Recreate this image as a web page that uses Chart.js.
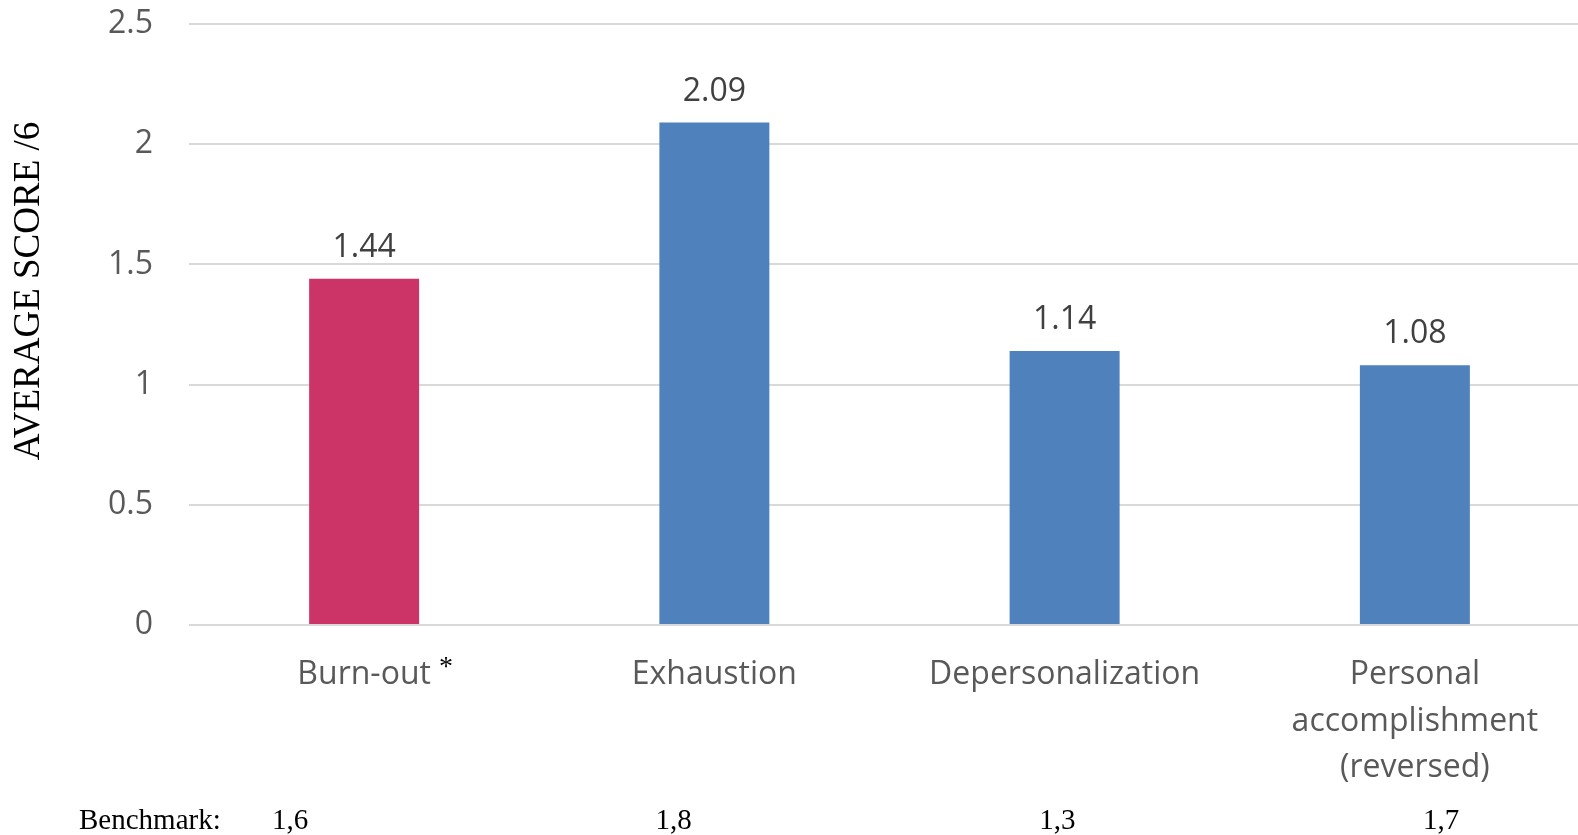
<!DOCTYPE html>
<html>
<head>
<meta charset="utf-8">
<script src="https://cdn.jsdelivr.net/npm/chart.js@4.4.1/dist/chart.umd.min.js"></script>
<style>
  html, body { margin: 0; padding: 0; background: #ffffff; overflow: hidden; }
  #wrap { position: relative; width: 1600px; height: 835px; }
</style>
</head>
<body>
<div id="wrap"><canvas id="c"></canvas></div>
<script>
// Burn-out scale scores (average, out of 6)
const categories = [['Burn-out'], ['Exhaustion'], ['Depersonalization'], ['Personal', 'accomplishment', '(reversed)']];
const scores = [1.44, 2.09, 1.14, 1.08];
const barColors = ['#CC3366', '#4F81BD', '#4F81BD', '#4F81BD'];
const yTicks = [0, 0.5, 1, 1.5, 2, 2.5];
const yTickLabels = ['0', '0.5', '1', '1.5', '2', '2.5'];
const axisTitle = 'AVERAGE SCORE /6';
const benchmarkLabel = 'Benchmark:';
const benchmarks = ['1,6', '1,8', '1,3', '1,7'];

const SANS = '"Open Sans", sans-serif';
const SERIF = '"Liberation Serif", "Times New Roman", serif';

// Value labels above each bar
const valueLabels = {
  id: 'valueLabels',
  afterDatasetsDraw(chart) {
    const ctx = chart.ctx;
    const meta = chart.getDatasetMeta(0);
    ctx.save();
    ctx.font = '32px ' + SANS;
    ctx.fillStyle = '#404040';
    ctx.textAlign = 'center';
    ctx.textBaseline = 'alphabetic';
    meta.data.forEach((bar, i) => {
      ctx.fillText(scores[i].toFixed(2), bar.x, bar.y - 22);
    });
    ctx.restore();
  }
};

// Rotated axis title, asterisk on the first category, benchmark row
const extras = {
  id: 'extras',
  afterDraw(chart) {
    const ctx = chart.ctx;
    const x = chart.scales.x;
    ctx.save();

    // axis title
    ctx.translate(29, 291);
    ctx.rotate(-Math.PI / 2);
    ctx.font = '37px ' + SERIF;
    ctx.fillStyle = '#000000';
    ctx.textAlign = 'center';
    ctx.textBaseline = 'middle';
    ctx.fillText(axisTitle, 0, 0);
    ctx.setTransform(1, 0, 0, 1, 0, 0);

    // asterisk after "Burn-out"
    ctx.font = '32px ' + SANS;
    const w = ctx.measureText(categories[0][0]).width;
    const cx = x.getPixelForValue(0);
    ctx.font = '28px ' + SERIF;
    ctx.fillStyle = '#000000';
    ctx.textAlign = 'left';
    ctx.textBaseline = 'top';
    ctx.fillText('*', cx + w / 2 + 8, 654);

    // benchmark row
    ctx.font = '29px ' + SERIF;
    ctx.textBaseline = 'alphabetic';
    ctx.textAlign = 'left';
    ctx.fillText(benchmarkLabel, 79, 829);
    ctx.textAlign = 'center';
    const colStart = chart.chartArea.left + 101;
    const colStep = 383.7;
    benchmarks.forEach((b, i) => ctx.fillText(b, colStart + i * colStep, 829));
    ctx.restore();
  }
};

new Chart(document.getElementById('c'), {
  type: 'bar',
  data: {
    labels: categories,
    datasets: [{
      data: scores,
      backgroundColor: barColors,
      borderWidth: 0,
      barPercentage: 0.314,
      categoryPercentage: 1
    }]
  },
  options: {
    responsive: true,
    maintainAspectRatio: false,
    animation: false,
    events: [],
    layout: { padding: { top: 24, right: 10, bottom: 0, left: 0 } },
    plugins: { legend: { display: false }, tooltip: { enabled: false } },
    scales: {
      x: {
        grid: { display: false, drawTicks: false },
        border: { display: false },
        ticks: {
          color: '#595959',
          font: { family: SANS, size: 32, lineHeight: 1.45 },
          padding: 27,
          maxRotation: 0,
          autoSkip: false
        },
        afterFit(scale) { scale.height = 835 - 625; }
      },
      y: {
        min: 0,
        max: 2.5,
        afterBuildTicks(scale) { scale.ticks = yTicks.map(v => ({ value: v })); },
        grid: { color: '#D9D9D9', lineWidth: 2, drawTicks: false },
        border: { display: false },
        ticks: {
          color: '#595959',
          font: { family: SANS, size: 32 },
          padding: 36,
          callback: (v) => yTickLabels[yTicks.indexOf(v)]
        },
        afterFit(scale) {
          scale.width = 189;
          scale.paddingTop = 0;
          scale.paddingBottom = 0;
        }
      }
    }
  },
  plugins: [valueLabels, extras]
});
</script>
</body>
</html>
